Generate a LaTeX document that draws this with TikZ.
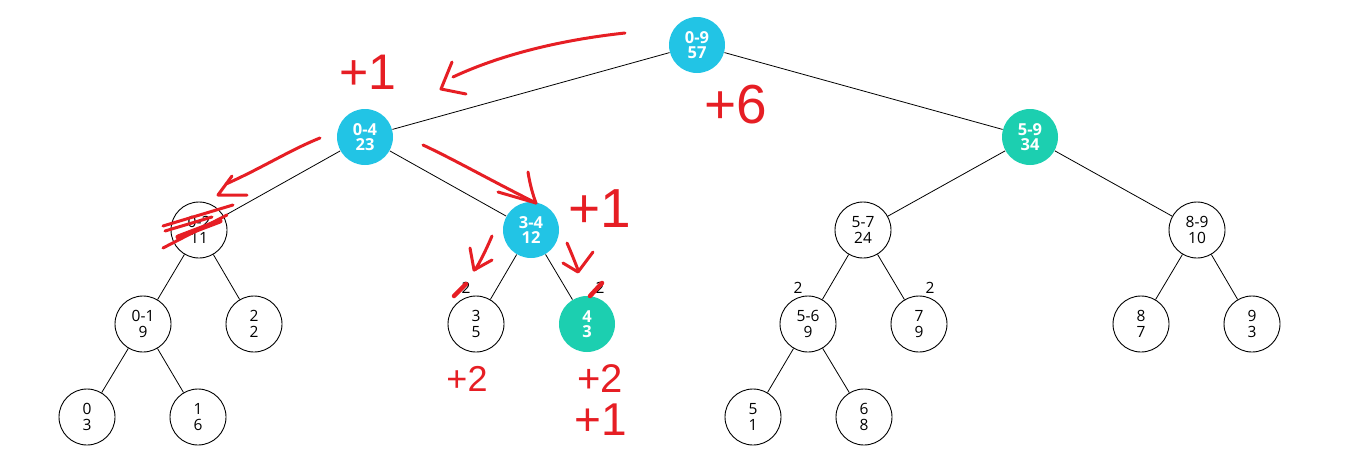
\documentclass[tikz,border=0pt]{standalone}
\usepackage{fontspec}
\setmainfont{Open Sans}
\newfontfamily\handfont{Liberation Sans}
\definecolor{segcyan}{RGB}{34,196,229}
\definecolor{segteal}{RGB}{28,207,176}
\definecolor{penred}{RGB}{230,30,36}
\begin{document}
\begin{tikzpicture}[x=1pt,y=-1pt,
  tnode/.style={circle,draw=black,line width=0.9pt,minimum size=56pt,inner sep=0pt,align=center,
    font=\fontsize{15.5}{16}\selectfont},
  cnode/.style={tnode,draw=none,fill=segcyan,text=white,font=\fontsize{16.5}{15.5}\selectfont\bfseries},
  gnode/.style={tnode,draw=none,fill=segteal,text=white,font=\fontsize{16.5}{15.5}\selectfont\bfseries},
  edge/.style={draw=black,line width=0.8pt},
  tag/.style={font=\fontsize{15.5}{16}\selectfont,inner sep=0pt},
  pen/.style={draw=penred,line width=3pt,line cap=round,line join=round},
  hand/.style={text=penred,inner sep=0pt}]
\useasboundingbox (0,0) rectangle (1357,472);
% nodes
\node[cnode] (n09) at (697,45) {0-9\\57};
\node[cnode] (n04) at (365,137) {0-4\\23};
\node[gnode] (n59) at (1030,137) {5-9\\34};
\node[tnode] (n02) at (199,230) {0-2\\11};
\node[cnode] (n34) at (531,230) {3-4\\12};
\node[tnode] (n57) at (863,230) {5-7\\24};
\node[tnode] (n89) at (1197,230) {8-9\\10};
\node[tnode] (n01) at (143,324) {0-1\\9};
\node[tnode] (n2) at (254,324) {2\\2};
\node[tnode] (n3) at (476,324) {3\\5};
\node[gnode] (n4) at (587,324) {4\\3};
\node[tnode] (n56) at (808,324) {5-6\\9};
\node[tnode] (n7) at (919,324) {7\\9};
\node[tnode] (n8) at (1141,324) {8\\7};
\node[tnode] (n9) at (1252,324) {9\\3};
\node[tnode] (n0) at (87,417) {0\\3};
\node[tnode] (n1) at (198,417) {1\\6};
\node[tnode] (n5) at (753,417) {5\\1};
\node[tnode] (n6) at (864,417) {6\\8};
% edges
\draw[edge] (n09) -- (n04);
\draw[edge] (n09) -- (n59);
\draw[edge] (n04) -- (n02);
\draw[edge] (n04) -- (n34);
\draw[edge] (n59) -- (n57);
\draw[edge] (n59) -- (n89);
\draw[edge] (n02) -- (n01);
\draw[edge] (n02) -- (n2);
\draw[edge] (n34) -- (n3);
\draw[edge] (n34) -- (n4);
\draw[edge] (n57) -- (n56);
\draw[edge] (n57) -- (n7);
\draw[edge] (n89) -- (n8);
\draw[edge] (n89) -- (n9);
\draw[edge] (n01) -- (n0);
\draw[edge] (n01) -- (n1);
\draw[edge] (n56) -- (n5);
\draw[edge] (n56) -- (n6);
% lazy tags
\node[tag] (t3) at (466,288) {2};
\node[tag] (t4) at (600,288) {2};
\node[tag] (t56) at (798,288) {2};
\node[tag] (t7) at (930,288) {2};
% red pen annotations
\draw[pen] (625,33) .. controls (560,40) and (500,55) .. (453,77);
\draw[pen] (452,62) -- (441,89) -- (466,94);
\draw[pen] (320,138) .. controls (290,150) and (262,168) .. (226,184);
\draw[pen] (232,176) -- (218,195) -- (247,195);
\draw[pen] (233,205) -- (163,226);
\draw[pen] (227,215) -- (163,248);
\draw[pen] (212,217) -- (165,231);
\draw[pen,line width=5pt] (220,221) -- (178,237);
\draw[pen] (423,145) .. controls (455,160) and (490,180) .. (536,203);
\draw[pen] (498,192) -- (536,203);
\draw[pen] (528,172) .. controls (530,185) and (533,195) .. (536,203);
\draw[pen] (492,236) .. controls (486,250) and (480,262) .. (475,270);
\draw[pen] (470,248) -- (474,270) -- (492,260);
\draw[pen,line width=4.5pt] (466,284) -- (454,296);
\draw[pen] (567,243) .. controls (571,252) and (575,262) .. (578,270);
\draw[pen] (563,263) -- (578,272) -- (593,252);
\draw[pen,line width=4.5pt] (602,283) -- (590,296);
\node[hand,font=\handfont\fontsize{50}{50}\selectfont] (h1) at (368,72) {+1};
\node[hand,font=\handfont\fontsize{55}{55}\selectfont] (h6) at (736,105) {+6};
\node[hand,font=\handfont\fontsize{55}{55}\selectfont] (h34) at (600,209) {+1};
\node[hand,font=\handfont\fontsize{36}{36}\selectfont] (h3) at (467,379) {+2};
\node[hand,font=\handfont\fontsize{40}{40}\selectfont] (h4) at (600,379) {+2};
\node[hand,font=\handfont\fontsize{46}{46}\selectfont] (h4b) at (601,420) {+1};
\end{tikzpicture}
\end{document}
